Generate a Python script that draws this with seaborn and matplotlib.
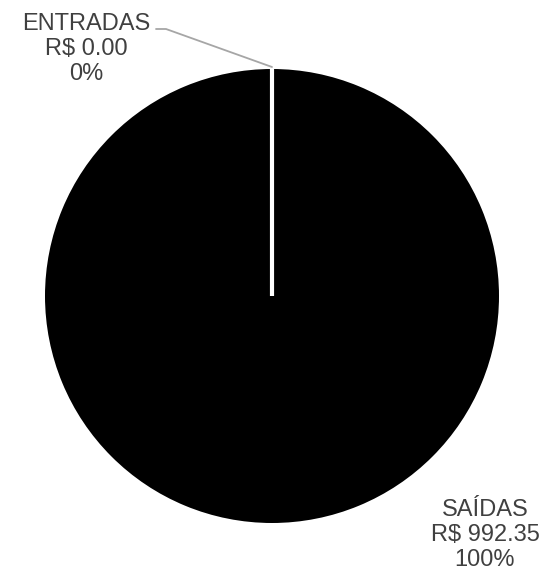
import matplotlib
matplotlib.use("Agg")
import matplotlib.pyplot as plt
import numpy as np
import seaborn as sns

sns.set_style("white")
plt.rcParams['font.family'] = ['Liberation Sans', 'DejaVu Sans']

labels = ["ENTRADAS", "SAÍDAS"]
values = [0.00, 992.35]
colors = ["#ffffff", "#000000"]

total = sum(values)
texts = [f"{l}\nR$ {v:.2f}\n{v / total * 100:.0f}%" for l, v in zip(labels, values)]

cx, cy, r = 272, 274, 227
start = 90

fig = plt.figure(figsize=(5.4, 5.7), dpi=100)
ax = fig.add_axes([0, 0, 1, 1])

ax.pie(values, colors=colors, startangle=start, counterclock=False,
       radius=r, center=(cx, cy), frame=True,
       wedgeprops=dict(linewidth=0))
ax.set_xlim(0, 540)
ax.set_ylim(0, 570)
ax.set_aspect("equal")
ax.axis("off")

# boundary of the zero slice (white radial line)
a = np.deg2rad(start)
ax.plot([cx, cx + r * np.cos(a)], [cy, cy + r * np.sin(a)],
        color="white", lw=3, solid_capstyle="butt")

# leader line for the zero slice label
ax.plot([cx, 166, 156], [cy + r + 2, 541, 541], color="#a6a6a6", lw=1.3)

ax.text(86, 521, texts[0], ha="center", va="center", fontsize=17,
        color="#404040", linespacing=1.15)
ax.text(485, 35, texts[1], ha="center", va="center", fontsize=17,
        color="#404040", linespacing=1.15)

fig.savefig("out.png", dpi=100, facecolor="white")
